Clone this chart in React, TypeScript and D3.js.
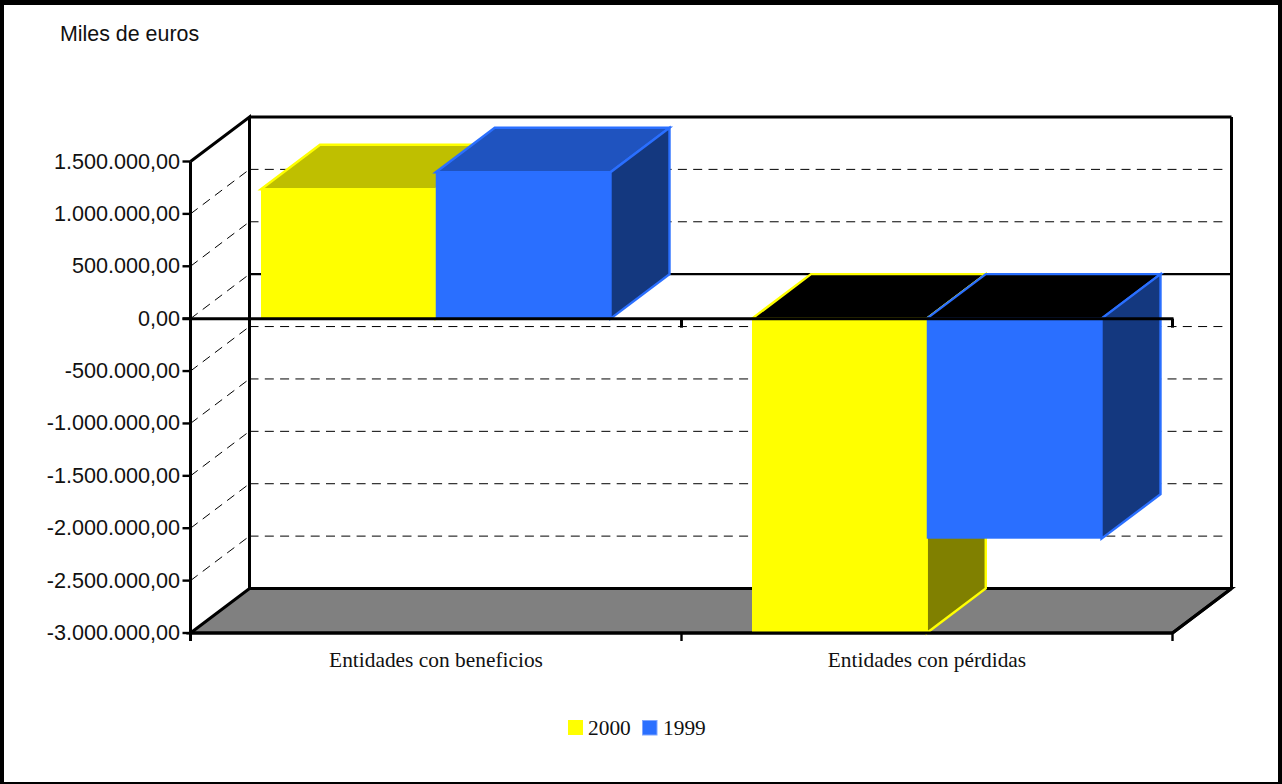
import React from "react";
import * as d3 from "d3";

const categories = ["Entidades con beneficios", "Entidades con pérdidas"];
const seriesNames = ["2000", "1999"];
const values2000 = [1235000, -3000000];
const values1999 = [1397000, -2100000];
const yTicks = [1500000, 1000000, 500000, 0, -500000, -1000000, -1500000, -2000000, -2500000, -3000000];
const yTickLabels = ["1.500.000,00", "1.000.000,00", "500.000,00", "0,00", "-500.000,00", "-1.000.000,00", "-1.500.000,00", "-2.000.000,00", "-2.500.000,00", "-3.000.000,00"];
const unitLabel = "Miles de euros";

const W = 1282, H = 784;
const x0 = 190.5, x1 = 1172.5;
const yTop = 161.5, yBot = 633;
const DX = 59, DY = -44.5;
const BAR_DX = 59;

const y = d3.scaleLinear().domain([-3000000, 1500000]).range([yBot, yTop]);
const xBand = d3.scaleBand<string>().domain(categories).range([x0, x1]);
const xSeries = d3.scaleBand<string>().domain(seriesNames).range([0, 349.5]);
const SERIES_START = 70.5;

const palette = [
  { front: "#ffff00", top: "#bfbf00", side: "#808000", stroke: "#ffff00" },
  { front: "#2a6fff", top: "#1f53bf", side: "#14387f", stroke: "#2a6fff" },
];

const pts = (a: number[][]) => a.map((p) => p.join(",")).join(" ");

function Bar({ cat, si, v }: { cat: string; si: number; v: number }) {
  const c = palette[si];
  const l = (xBand(cat) as number) + SERIES_START + (xSeries(seriesNames[si]) as number);
  const r = l + xSeries.bandwidth();
  const yv = y(v), y00 = y(0);
  const up = Math.min(yv, y00), lo = Math.max(yv, y00);
  const topFill = v >= 0 ? c.top : "#000000";
  return (
    <g>
      <polygon points={pts([[l, up], [l + BAR_DX, up + DY], [r + BAR_DX, up + DY], [r, up]])} fill={topFill} stroke={c.stroke} strokeWidth={2.4} />
      <polygon points={pts([[r, up], [r + BAR_DX, up + DY], [r + BAR_DX, lo + DY], [r, lo]])} fill={c.side} stroke={c.stroke} strokeWidth={2.4} />
      <rect x={l} y={up} width={r - l} height={lo - up} fill={c.front} />
    </g>
  );
}

export default function App() {
  const bl = x0 + DX;
  const br = x1 + DX;
  const mid = xBand(categories[1]) as number;
  const sans = "Liberation Sans";
  const serif = "Liberation Serif";
  return (
    <svg width={W} height={H} style={{ position: "fixed", left: 0, top: 0 }}>
      <rect x={0} y={0} width={W} height={H} fill="#000" />
      <rect x={4} y={5} width={W - 8} height={H - 7} fill="#fff" />
      <text x={60} y={41} fontFamily={sans} fontSize={21.4} fill="#111">{unitLabel}</text>

      {/* floor */}
      <polygon points={pts([[x0, yBot], [bl, yBot + DY], [br, yBot + DY], [x1, yBot]])} fill="#808080" stroke="#000" strokeWidth={3} />
      {/* gridlines */}
      {yTicks.slice(1, -1).filter((t) => t !== 0).map((t) => (
        <g key={t} stroke="#000" strokeWidth={1} strokeDasharray="9 6.3" fill="none">
          <line x1={x0} y1={y(t)} x2={bl} y2={y(t) + DY} />
          <line x1={bl} y1={y(t) + DY} x2={br - 6} y2={y(t) + DY} />
        </g>
      ))}
      <line x1={x0} y1={y(0)} x2={bl} y2={y(0) + DY} stroke="#000" strokeWidth={1} strokeDasharray="9 6.3" />
      {/* back wall frame */}
      <g stroke="#000" strokeWidth={3} fill="none">
        <polyline points={pts([[x0, yTop], [bl, yTop + DY], [bl, yBot + DY]])} />
        <line x1={bl} y1={yTop + DY} x2={br} y2={yTop + DY} />
        <line x1={br} y1={yTop + DY} x2={br} y2={yBot + DY} />
        <line x1={bl} y1={y(0) + DY} x2={br} y2={y(0) + DY} strokeWidth={2.4} />
        <line x1={x0} y1={yTop} x2={x0} y2={yBot + 8} />
      </g>
      {/* bars */}
      {categories.map((cat, i) => (
        <g key={cat}>
          <Bar cat={cat} si={0} v={values2000[i]} />
          <Bar cat={cat} si={1} v={values1999[i]} />
        </g>
      ))}
      {/* axes in front */}
      <g stroke="#000" strokeWidth={3} fill="none">
        <line x1={x0 - 8} y1={y(0)} x2={x1 + 1} y2={y(0)} />
        <line x1={x0} y1={yBot} x2={x1} y2={yBot} />
        <line x1={x1} y1={yBot} x2={br} y2={yBot + DY} />
        <line x1={mid} y1={y(0)} x2={mid} y2={y(0) + 9} />
        <line x1={x1} y1={y(0)} x2={x1} y2={y(0) + 9} />
        <line x1={mid} y1={yBot} x2={mid} y2={yBot + 8} strokeWidth={2.4} />
        <line x1={x1} y1={yBot} x2={x1} y2={yBot + 8} strokeWidth={2.4} />
        <line x1={x0} y1={yBot} x2={x0} y2={yBot + 8} strokeWidth={2.4} />
      </g>
      {yTicks.map((t, i) => (
        <g key={t}>
          <line x1={x0 - 8} x2={x0} y1={y(t)} y2={y(t)} stroke="#000" strokeWidth={2.4} />
          <text x={180} y={y(t) + 7} textAnchor="end" fontFamily={sans} fontSize={21.6} fill="#111">{yTickLabels[i]}</text>
        </g>
      ))}
      {categories.map((cat) => (
        <text key={cat} x={(xBand(cat) as number) + xBand.bandwidth() / 2} y={667} textAnchor="middle" fontFamily={serif} fontSize={21.4} fill="#111">{cat}</text>
      ))}
      {/* legend */}
      <rect x={568} y={720} width={15} height={15} fill={palette[0].front} />
      <text x={588} y={735} fontFamily={serif} fontSize={21.4} fill="#111">{seriesNames[0]}</text>
      <rect x={642.5} y={720.5} width={14.5} height={14.5} fill={palette[1].front} stroke="#7fa6ff" strokeWidth={1} />
      <text x={663} y={735} fontFamily={serif} fontSize={21.4} fill="#111">{seriesNames[1]}</text>
    </svg>
  );
}
